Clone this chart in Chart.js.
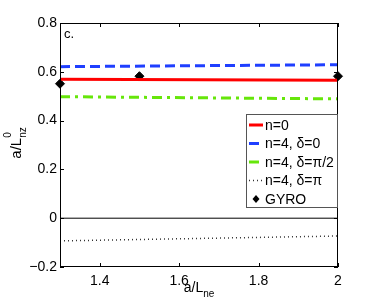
<!DOCTYPE html>
<html>
<head>
<meta charset="utf-8">
<script src="https://cdn.jsdelivr.net/npm/chart.js@4/dist/chart.umd.min.js"></script>
<style>
  html, body { margin: 0; padding: 0; background: #fff; }
  #wrap { width: 374px; height: 302px; }
</style>
</head>
<body>
<div id="wrap"><canvas id="chart" width="374" height="302"></canvas></div>
<script>
// x values (a/L_ne)
const xLine = [1.3, 2];
const xGyro = [1.3, 1.5, 2];

// series values (a/L^0_nz)
const n0 = [0.569, 0.565];
const n4d0 = [0.621, 0.629];
const n4dHalfPi = [0.498, 0.489];
const n4dPi = [-0.093, -0.073];
const gyro = [0.551, 0.582, 0.582];
const zeroLine = [0, 0];

// tick labels
const xTicks = [1.4, 1.6, 1.8, 2];
const yTicks = [-0.2, 0, 0.2, 0.4, 0.6, 0.8];

const legendLabels = ['n=0', 'n=4, \u03b4=0', 'n=4, \u03b4=\u03c0/2', 'n=4, \u03b4=\u03c0', 'GYRO'];

const FONT = '"Liberation Sans", Arial, Helvetica, sans-serif';

function pts(xs, ys) {
    return xs.map((x, i) => ({ x: x, y: ys[i] }));
}

// box, inward ticks, axis titles, panel tag and legend
const decorPlugin = {
    id: 'decor',
    afterDraw(chart) {
        const ctx = chart.ctx;
        const a = chart.chartArea;
        const xs = chart.scales.x;
        const ys = chart.scales.y;
        ctx.save();
        ctx.strokeStyle = '#000';
        ctx.lineWidth = 1;
        ctx.strokeRect(a.left + 0.5, a.top + 0.5, a.right - a.left - 1, a.bottom - a.top - 1);
        ctx.beginPath();
        xTicks.forEach(v => {
            const px = Math.round(xs.getPixelForValue(v)) + 0.5;
            ctx.moveTo(px, a.bottom); ctx.lineTo(px, a.bottom - 4);
            ctx.moveTo(px, a.top); ctx.lineTo(px, a.top + 4);
        });
        yTicks.forEach(v => {
            const py = Math.round(ys.getPixelForValue(v)) + 0.5;
            ctx.moveTo(a.left, py); ctx.lineTo(a.left + 4, py);
            ctx.moveTo(a.right, py); ctx.lineTo(a.right - 4, py);
        });
        ctx.stroke();

        // panel tag
        ctx.fillStyle = '#000';
        ctx.font = '13px ' + FONT;
        ctx.textBaseline = 'middle';
        ctx.textAlign = 'left';
        ctx.fillText('c.', a.left + 4, a.top + 11);

        // x title a/L_ne
        ctx.textBaseline = 'alphabetic';
        ctx.font = '14px ' + FONT;
        const w1 = ctx.measureText('a/L').width;
        ctx.font = '10px ' + FONT;
        const w2 = ctx.measureText('ne').width;
        const sx = (a.left + a.right) / 2 - (w1 + w2) / 2;
        ctx.font = '14px ' + FONT;
        ctx.fillText('a/L', sx, 292);
        ctx.font = '10px ' + FONT;
        ctx.fillText('ne', sx + w1, 297);

        // y title a/L^0_nz (rotated)
        ctx.save();
        ctx.translate(21, 143);
        ctx.rotate(-Math.PI / 2);
        ctx.font = '15px ' + FONT;
        const yw1 = ctx.measureText('a/L').width;
        ctx.font = '10px ' + FONT;
        const yw2 = ctx.measureText('nz').width;
        const sy = -(yw1 + yw2) / 2;
        ctx.font = '15px ' + FONT;
        ctx.fillText('a/L', sy, 0);
        ctx.font = '10px ' + FONT;
        ctx.fillText('0', sy + yw1, -10);
        ctx.fillText('nz', sy + yw1, 5);
        ctx.restore();

        // legend
        const lx = 246, ly = 114, lw = 92, lh = 94;
        ctx.fillStyle = '#fff';
        ctx.fillRect(lx, ly, lw, lh);
        ctx.strokeStyle = '#555';
        ctx.lineWidth = 1;
        ctx.strokeRect(lx + 0.5, ly + 0.5, lw - 1, lh - 1);
        const dsOrder = [0, 1, 2, 3, 5];
        dsOrder.forEach((di, i) => {
            const ds = chart.data.datasets[di];
            const yy = ly + 11 + i * 18.5;
            if (ds.showLine === false) {
                ctx.fillStyle = '#000';
                ctx.beginPath();
                ctx.moveTo(256, yy - 4); ctx.lineTo(259.5, yy); ctx.lineTo(256, yy + 4); ctx.lineTo(252.5, yy);
                ctx.closePath();
                ctx.fill();
            } else {
                ctx.strokeStyle = ds.borderColor;
                ctx.lineWidth = ds.borderWidth;
                ctx.setLineDash(ds.borderDash || []);
                ctx.beginPath();
                ctx.moveTo(249, yy); ctx.lineTo(263, yy);
                ctx.stroke();
                ctx.setLineDash([]);
            }
            ctx.fillStyle = '#000';
            ctx.font = '14px ' + FONT;
            ctx.textBaseline = 'middle';
            ctx.fillText(legendLabels[i], 265, yy + 1);
        });
        ctx.restore();
    }
};

new Chart(document.getElementById('chart').getContext('2d'), {
    type: 'line',
    data: {
        datasets: [
            { data: pts(xLine, n0), borderColor: '#ff0000', borderWidth: 3, pointRadius: 0 },
            { data: pts(xLine, n4d0), borderColor: '#1f3fff', borderWidth: 3, borderDash: [10, 5], pointRadius: 0 },
            { data: pts(xLine, n4dHalfPi), borderColor: '#66e60a', borderWidth: 3, borderDash: [10, 5, 3, 5], pointRadius: 0 },
            { data: pts(xLine, n4dPi), borderColor: '#333333', borderWidth: 1.5, borderDash: [1, 3], pointRadius: 0 },
            { data: pts(xLine, zeroLine), borderColor: '#000000', borderWidth: 1, pointRadius: 0 },
            { data: pts(xGyro, gyro), showLine: false, pointStyle: 'rectRot', pointRadius: 4.5,
              pointBackgroundColor: '#000', pointBorderColor: '#000', borderColor: '#000' }
        ]
    },
    options: {
        responsive: false,
        animation: false,
        clip: false,
        layout: { padding: { left: 0, right: 36, top: 23, bottom: 0 } },
        plugins: { legend: { display: false }, tooltip: { enabled: false } },
        scales: {
            x: {
                type: 'linear', min: 1.3, max: 2,
                grid: { display: false, drawTicks: false },
                border: { display: false },
                afterBuildTicks: s => { s.ticks = xTicks.map(v => ({ value: v })); },
                afterFit: s => { s.height = 35; },
                ticks: { color: '#000', padding: 6, font: { family: FONT, size: 14 },
                         callback: v => String(v) }
            },
            y: {
                min: -0.2, max: 0.8,
                grid: { display: false, drawTicks: false },
                border: { display: false },
                afterBuildTicks: s => { s.ticks = yTicks.map(v => ({ value: v })); },
                afterFit: s => { s.width = 60; },
                ticks: { color: '#000', padding: 3, font: { family: FONT, size: 14 },
                         callback: v => v < 0 ? '\u2212' + Math.abs(v).toFixed(1) : (v === 0 ? '0' : v.toFixed(1)) }
            }
        }
    },
    plugins: [decorPlugin]
});
</script>
</body>
</html>
